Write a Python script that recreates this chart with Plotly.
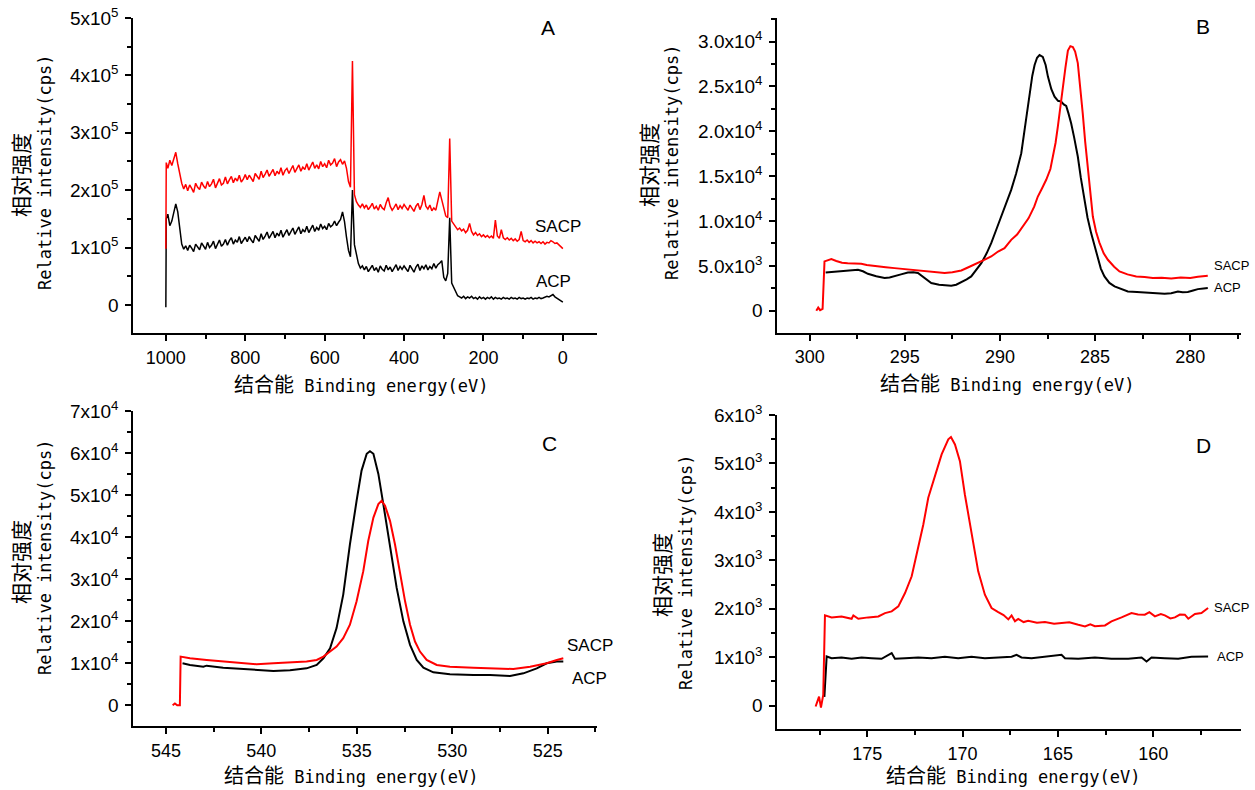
import plotly.graph_objects as go

W, H = 1255, 790

# ---------------- Panel A: survey spectra (values in 10^3 cps) ----------------
survey_eV = [1000, 999] + list(range(995, -1, -5))
survey_SACP_k = [98, 248,
    238, 252, 243, 257, 266, 246, 228, 212, 202, 210,
    199, 209, 203, 196, 212, 205, 201, 214, 207, 203,
    215, 206, 211, 219, 204, 213, 220, 209, 212, 223,
    211, 218, 224, 213, 221, 216, 226, 214, 219, 227,
    218, 226, 221, 215, 229, 224, 219, 233, 222, 228,
    235, 224, 229, 236, 225, 233, 228, 239, 226, 234,
    238, 229, 236, 243, 231, 237, 244, 233, 240, 236,
    246, 235, 241, 249, 238, 244, 237, 250, 241, 246,
    239, 252, 244, 247, 255, 241, 249, 253, 245, 251,
    238, 215, 205, 425, 192, 180, 174, 170, 176, 169,
    174, 166, 171, 177, 167, 172, 165, 175, 169, 166,
    178, 187, 172, 165, 170, 176, 166, 173, 168, 175,
    170, 165, 174, 168, 163, 172, 177, 166, 175, 191,
    172, 167, 174, 164, 169, 165, 179, 197, 183, 171,
    155, 152, 290, 146, 140, 136, 131, 134, 129, 132,
    126, 130, 142, 128, 122, 126, 121, 124, 119, 122,
    118, 121, 117, 120, 116, 148, 120, 116, 131, 117,
    114, 117, 113, 116, 112, 115, 111, 114, 128, 112,
    110, 113, 109, 112, 108, 111, 108, 110, 107, 110,
    106, 109, 108, 112, 110, 107, 108, 104, 101, 98]
survey_ACP_k = [-4, 150,
    158, 138, 146, 160, 176, 162, 128, 106, 97, 103,
    95, 104, 99, 93, 106, 100, 96, 108, 102, 97,
    109, 100, 104, 111, 98, 107, 113, 102, 106, 114,
    104, 112, 117, 106, 113, 109, 119, 107, 112, 118,
    110, 119, 113, 108, 121, 116, 111, 124, 114, 120,
    127, 116, 121, 128, 117, 125, 120, 130, 118, 126,
    131, 121, 127, 134, 123, 129, 136, 124, 131, 127,
    137, 126, 132, 139, 128, 135, 130, 141, 133, 137,
    131, 142, 136, 139, 146, 138, 144, 149, 162, 145,
    118, 95, 84, 200, 105, 85, 72, 64, 68, 61,
    67, 58, 63, 69, 60, 65, 57, 68, 62, 59,
    69, 61, 66, 58, 64, 70, 60, 67, 62, 68,
    63, 58, 69, 62, 57, 66, 71, 60, 68, 63,
    70, 61, 67, 63, 72, 64, 70, 73, 77, 48,
    42, 55, 152, 38, 30, 22, 16, 14, 12, 15,
    11, 14, 12, 15, 11, 13, 10, 14, 11, 13,
    10, 13, 11, 14, 10, 13, 11, 12, 10, 13,
    11, 12, 10, 13, 11, 12, 10, 13, 11, 12,
    10, 12, 11, 13, 10, 12, 11, 13, 11, 12,
    13, 15, 14, 16, 18, 14, 12, 9, 7, 5]

# ---------------- Panel B: C 1s ----------------
c1s_SACP_eV = [299.65, 299.55, 299.45, 299.32, 299.22, 299.0, 298.86, 298.6, 298.3, 298.0,
               297.6, 297.29, 297.0, 296.7, 296.41, 296.0, 295.54, 295.1, 294.66, 294.2,
               293.79, 293.3, 292.91, 292.5, 292.03, 291.6, 291.16, 290.8, 290.46, 290.1,
               289.76, 289.41, 289.1, 288.8, 288.5, 288.2, 288.01, 287.8, 287.57, 287.35,
               287.22, 287.08, 286.96, 286.83, 286.7, 286.56, 286.43, 286.3, 286.17, 286.05,
               285.91, 285.78, 285.65, 285.52, 285.38, 285.25, 285.12, 284.95, 284.77, 284.55,
               284.33, 284.0, 283.72, 283.3, 282.84, 282.4, 281.97, 281.5, 281.0, 280.5,
               280.0, 279.6, 279.08]
c1s_SACP = [0, 350, 60, 200, 5500, 5600, 5750, 5550, 5350, 5300,
            5250, 5230, 5100, 5000, 4940, 4850, 4750, 4650, 4565, 4450,
            4380, 4250, 4195, 4300, 4490, 4900, 5300, 5700, 6050, 6600,
            6980, 7900, 8500, 9400, 10300, 11600, 12730, 13600, 14600, 15800,
            17180, 18700, 20500, 22800, 25000, 27100, 29000, 29500, 29400, 28900,
            27600, 25000, 22000, 18800, 15700, 12800, 10500, 8800, 7570, 6400,
            5680, 4900, 4380, 4050, 3820, 3750, 3640, 3680, 3600, 3700,
            3650, 3780, 3900]
c1s_ACP_eV = [299.16, 298.8, 298.51, 298.0, 297.46, 297.2, 296.94, 296.5, 296.06, 295.8,
              295.54, 295.2, 294.84, 294.55, 294.31, 294.0, 293.61, 293.2, 292.91, 292.56,
              292.3, 292.03, 291.75, 291.51, 291.25, 290.98, 290.7, 290.46, 290.2, 289.93,
              289.67, 289.41, 289.15, 288.88, 288.65, 288.45, 288.3, 288.18, 288.05, 287.92,
              287.75, 287.6, 287.48, 287.3, 287.13, 286.95, 286.78, 286.65, 286.52, 286.4,
              286.26, 286.1, 285.91, 285.75, 285.56, 285.4, 285.21, 285.0, 284.86, 284.7,
              284.51, 284.25, 283.98, 283.6, 283.28, 282.8, 282.41, 281.9, 281.35, 281.0,
              280.65, 280.4, 280.13, 279.85, 279.6, 279.3, 279.08]
c1s_ACP = [4270, 4330, 4380, 4450, 4560, 4400, 4120, 3850, 3640, 3700,
           3820, 4050, 4270, 4300, 4200, 3700, 3080, 2900, 2850, 2780,
           2900, 3150, 3500, 3820, 4500, 5300, 6400, 7530, 9000, 10500,
           12000, 13470, 15300, 17560, 21000, 24240, 26200, 27400, 28200, 28500,
           28300, 27400, 26100, 24700, 23870, 23400, 23310, 23000, 22830, 22000,
           20900, 19300, 17190, 14800, 12360, 10400, 8650, 7000, 5680, 4700,
           3820, 3100, 2710, 2400, 2150, 2100, 2040, 1980, 1890, 1950,
           2150, 2050, 2080, 2250, 2410, 2480, 2520]

# ---------------- Panel C: O 1s ----------------
o1s_SACP_eV = [544.65, 544.53, 544.41, 544.27, 544.23, 543.74, 542.87, 542.0, 541.12, 540.25,
               539.37, 538.5, 537.63, 537.10, 536.75, 536.40, 536.06, 535.71, 535.36, 535.01,
               534.66, 534.40, 534.13, 533.87, 533.70, 533.52, 533.26, 533.0, 532.74, 532.47,
               532.21, 531.95, 531.69, 531.34, 530.81, 530.12, 528.89, 528.02, 526.80, 525.92,
               525.05, 524.52, 524.18]
o1s_SACP = [0, 400, 0, 0, 11560, 11160, 10770, 10370, 9970, 9730,
            9970, 10130, 10370, 10770, 11560, 12760, 13960, 15950, 19140, 24720,
            31900, 39070, 44650, 47840, 48640, 47450, 43860, 38280, 31100, 24720,
            19140, 15150, 12760, 10770, 9570, 9170, 8930, 8770, 8610, 9170,
            9970, 10770, 11160]
o1s_ACP_eV = [544.13, 543.74, 543.04, 542.87, 542.0, 541.12, 540.25, 539.37, 538.5, 537.63,
              537.10, 536.75, 536.40, 536.06, 535.71, 535.36, 535.01, 534.75, 534.48, 534.31,
              534.13, 533.87, 533.61, 533.26, 532.91, 532.56, 532.21, 531.86, 531.51, 530.99,
              530.12, 528.89, 528.02, 526.97, 526.27, 525.57, 525.05, 524.52, 524.18]
o1s_ACP = [9970, 9570, 9170, 9410, 8930, 8610, 8290, 8130, 8290, 8770,
           9570, 11160, 13560, 18340, 26310, 38280, 48640, 55820, 59810, 60440,
           59810, 55020, 47840, 37480, 27910, 19940, 14350, 10770, 8930, 7820,
           7340, 7180, 7180, 6940, 7580, 8770, 9970, 10370, 10370]

# ---------------- Panel D: S 2p ----------------
s2p_SACP_eV = [177.71, 177.53, 177.43, 177.31, 177.22, 176.87, 176.35, 175.82, 175.73, 175.47,
               174.95, 174.42, 174.07, 173.72, 173.37, 173.02, 172.67, 172.33, 172.06, 171.80,
               171.45, 171.10, 170.75, 170.61, 170.40, 170.14, 169.88, 169.53, 169.18, 168.83,
               168.48, 168.13, 167.85, 167.60, 167.43, 167.25, 167.08, 166.80, 166.56, 166.1,
               165.68, 165.2, 164.81, 164.4, 163.93, 163.58, 163.3, 163.06, 162.53, 162.19,
               161.66, 161.14, 160.8, 160.44, 160.2, 159.91, 159.6, 159.39, 159.1, 158.86,
               158.6, 158.34, 158.16, 157.81, 157.47, 157.12]
s2p_SACP = [-20, 186, -41, 221, 1862, 1821, 1841, 1793, 1862, 1793,
            1821, 1841, 1910, 1945, 2048, 2324, 2669, 3255, 3738, 4290,
            4738, 5186, 5497, 5545, 5393, 5048, 4359, 3531, 2772, 2290,
            2014, 1931, 1870, 1780, 1862, 1740, 1790, 1724, 1752, 1710,
            1724, 1690, 1703, 1720, 1669, 1635, 1680, 1640, 1655, 1738,
            1821, 1910, 1880, 1876, 1930, 1841, 1890, 1862, 1800, 1821,
            1880, 1876, 1793, 1890, 1910, 2014]
s2p_ACP_eV = [177.25, 177.13, 176.87, 176.35, 175.82, 175.30, 174.77, 174.25, 173.72, 173.55,
              173.02, 172.33, 171.63, 170.93, 170.23, 169.53, 168.83, 168.13, 167.43, 167.17,
              166.91, 166.38, 165.68, 164.81, 164.63, 163.93, 163.06, 162.19, 161.31, 160.61,
              160.35, 160.09, 159.39, 158.69, 157.99, 157.64, 157.12]
s2p_ACP = [180, 1014, 979, 993, 966, 993, 979, 966, 1083, 966,
           979, 993, 979, 1007, 979, 1007, 979, 993, 1007, 1048,
           993, 979, 1007, 1048, 979, 966, 993, 966, 966, 993,
           910, 993, 979, 966, 1007, 1014, 1014]

# ---------------- styling ----------------
TICK_FONT = "Liberation Sans, Arial, sans-serif"
NARROW = "Liberation Sans Narrow, Arial Narrow, Liberation Sans, sans-serif"
CJK = "Noto Sans CJK SC, sans-serif"
MONO = "DejaVu Sans Mono"


def px_x(px):
    return px / W


def px_y(py):
    return 1 - py / H


panels = {
    "A": dict(x=(133.3, 597.0), y=(18.0, 333.0)),
    "B": dict(x=(777.3, 1240.7), y=(18.3, 332.7)),
    "C": dict(x=(133.3, 596.7), y=(411.0, 726.0)),
    "D": dict(x=(777.3, 1240.7), y=(415.0, 729.3)),
}

fig = go.Figure()


def add(xs, ys, color, width, xa, ya):
    fig.add_trace(go.Scatter(x=xs, y=ys, mode="lines", xaxis=xa, yaxis=ya,
                             line=dict(color=color, width=width), hoverinfo="skip"))


add(survey_eV, [v * 1000 for v in survey_ACP_k], "black", 1.5, "x", "y")
add(survey_eV, [v * 1000 for v in survey_SACP_k], "#ff0000", 1.5, "x", "y")
add(c1s_ACP_eV, c1s_ACP, "black", 2, "x2", "y2")
add(c1s_SACP_eV, c1s_SACP, "#ff0000", 2, "x2", "y2")
add(o1s_ACP_eV, o1s_ACP, "black", 2, "x3", "y3")
add(o1s_SACP_eV, o1s_SACP, "#ff0000", 2, "x3", "y3")
add(s2p_ACP_eV, s2p_ACP, "black", 2, "x4", "y4")
add(s2p_SACP_eV, s2p_SACP, "#ff0000", 2, "x4", "y4")


def sci(m, e):
    return f"{m}x10<sup>{e}</sup>"


y_ticks = {
    "A": ([0, 1e5, 2e5, 3e5, 4e5, 5e5], ["0"] + [sci(i, 5) for i in range(1, 6)], 5e4, [-49000, 500000]),
    "B": ([0, 5e3, 1e4, 1.5e4, 2e4, 2.5e4, 3e4],
          ["0", sci("5.0", 3), sci("1.0", 4), sci("1.5", 4), sci("2.0", 4), sci("2.5", 4), sci("3.0", 4)],
          2500, [-2450, 32600]),
    "C": ([i * 1e4 for i in range(8)], ["0"] + [sci(i, 4) for i in range(1, 8)], 5000, [-4950, 70000]),
    "D": ([i * 1e3 for i in range(7)], ["0"] + [sci(i, 3) for i in range(1, 7)], 500, [-490, 6000]),
}
x_ticks = {
    "A": (200, 100, [1082, -86]),
    "B": (5, 2.5, [301.7, 277.35]),
    "C": (5, 2.5, [546.71, 522.43]),
    "D": (5, 2.5, [179.72, 155.41]),
}

axis_common = dict(showgrid=False, zeroline=False, showline=True, linecolor="black", linewidth=2,
                   ticks="outside", ticklen=6, tickwidth=1.5, tickcolor="black", automargin=False,
                   tickfont=dict(family=TICK_FONT, size=19, color="black"))

layout_axes = {}
for i, key in enumerate(["A", "B", "C", "D"]):
    sfx = "" if i == 0 else str(i + 1)
    p = panels[key]
    dx, mx, xr = x_ticks[key]
    tv, tt, my, yr = y_ticks[key]
    layout_axes["xaxis" + sfx] = dict(
        axis_common, domain=[px_x(p["x"][0]), px_x(p["x"][1])], range=xr,
        anchor="y" + sfx, tick0=0, dtick=dx, ticklabelstandoff=1,
        tickfont=dict(family=TICK_FONT, size=18, color="black"),
        minor=dict(ticks="outside", ticklen=4, tickwidth=1.5, tickcolor="black", dtick=mx, tick0=0))
    layout_axes["yaxis" + sfx] = dict(
        axis_common, domain=[px_y(p["y"][1]), px_y(p["y"][0])], range=yr,
        anchor="x" + sfx, tickmode="array", tickvals=tv, ticktext=tt, ticklabelstandoff=3,
        minor=dict(ticks="outside", ticklen=4, tickwidth=1.5, tickcolor="black", dtick=my, tick0=0))

annotations = []


def ann(px, py, text, size, family, xanchor="center", angle=0):
    annotations.append(dict(x=px_x(px), y=px_y(py), xref="paper", yref="paper", text=text,
                            showarrow=False, xanchor=xanchor, yanchor="middle", textangle=angle,
                            font=dict(family=family, size=size, color="black")))


xtitle = ('结合能<span style="font-family:DejaVu Sans Mono;font-size:17px">'
          ' Binding energy(eV)</span>')
for (cx, cy) in [(361, 384), (1007, 383), (351, 774), (1013, 774)]:
    ann(cx, cy, xtitle, 20, CJK)

for (c1, c2) in [((20, 175), (45, 173)), ((648, 165), (672, 163)),
                 ((20, 562), (45, 558)), ((661, 575), (686, 573))]:
    ann(c1[0], c1[1], "相对强度", 21, CJK, angle=-90)
    ann(c2[0], c2[1], "Relative intensity(cps)", 17, MONO, angle=-90)

for (lab, cx, cy) in [("A", 548, 28), ("B", 1203, 27), ("C", 549, 443), ("D", 1203, 445)]:
    ann(cx, cy, lab, 21, NARROW)

for (txt, x0, cy, sz) in [("SACP", 533, 227, 17), ("ACP", 534, 281, 17),
                          ("SACP", 1212, 265, 13), ("ACP", 1212, 288, 13),
                          ("SACP", 565, 645, 17), ("ACP", 570, 678, 17),
                          ("SACP", 1212, 607, 13), ("ACP", 1215, 656, 13)]:
    ann(x0, cy, txt, sz, NARROW, xanchor="left")

fig.update_layout(width=W, height=H, margin=dict(l=0, r=0, t=0, b=0, autoexpand=False),
                  paper_bgcolor="white", plot_bgcolor="white", showlegend=False,
                  annotations=annotations, **layout_axes)

fig.write_html("out.html")
